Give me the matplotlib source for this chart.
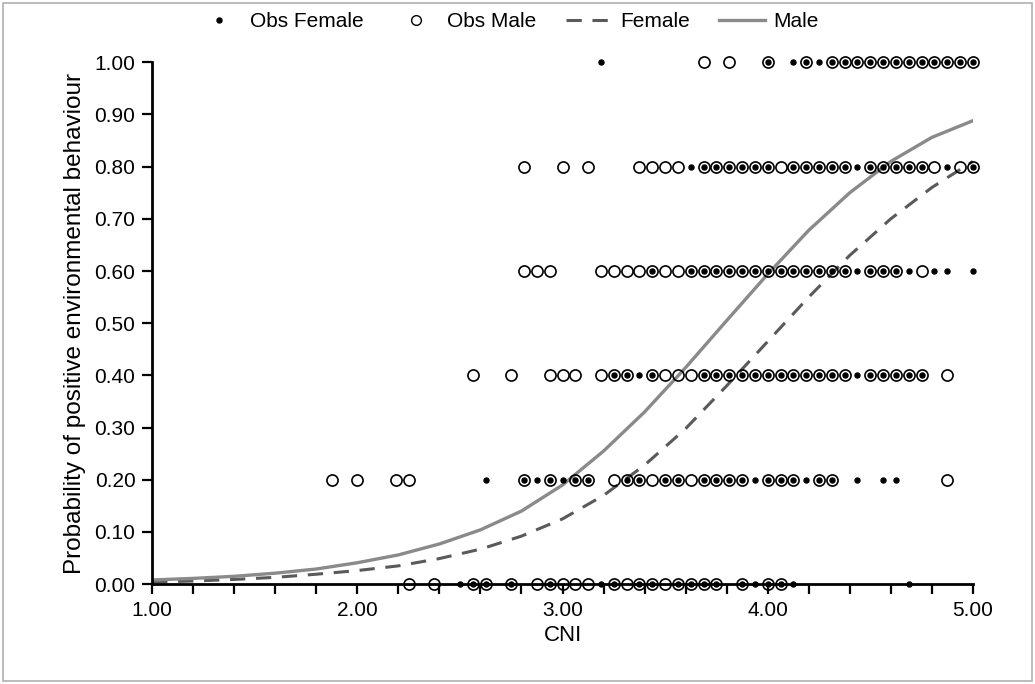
import matplotlib

matplotlib.use("Agg")
import matplotlib.pyplot as plt  # noqa: E402
from matplotlib.lines import Line2D  # noqa: E402
from matplotlib.patches import Rectangle  # noqa: E402

plt.rcParams["font.family"] = ["Liberation Sans", "DejaVu Sans"]

LEVELS = [0.0, 0.2, 0.4, 0.6, 0.8, 1.0]

FEMALE_00 = [2.5, 2.5625, 2.625, 2.75, 2.9375, 3.1875, 3.25, 3.375, 3.4375, 3.5625, 3.625, 3.6875,
             3.75, 3.875, 3.9375, 4.0, 4.0625, 4.125, 4.6875]
FEMALE_20 = [2.625, 2.8125, 2.875, 2.9375, 3.0, 3.0625, 3.125, 3.3125, 3.375, 3.5, 3.5625, 3.6875,
             3.75, 3.8125, 3.875, 3.9375, 4.0, 4.0625, 4.125, 4.1875, 4.25, 4.3125, 4.4375, 4.5625, 4.625]
FEMALE_40 = [3.25, 3.3125, 3.375, 3.4375, 3.6875, 3.75, 3.8125, 3.875, 3.9375, 4.0, 4.0625, 4.125,
             4.1875, 4.25, 4.3125, 4.375, 4.4375, 4.5, 4.5625, 4.625, 4.6875, 4.75]
FEMALE_60 = [3.4375, 3.625, 3.6875, 3.75, 3.8125, 3.875, 3.9375, 4.0, 4.0625, 4.125, 4.1875, 4.25,
             4.3125, 4.375, 4.4375, 4.5, 4.5625, 4.625, 4.6875, 4.8125, 4.875, 5.0]
FEMALE_80 = [3.625, 3.6875, 3.75, 3.8125, 3.875, 3.9375, 4.0, 4.125, 4.1875, 4.25, 4.3125, 4.375,
             4.4375, 4.5, 4.5625, 4.625, 4.6875, 4.75, 4.875, 5.0]
FEMALE_100 = [3.1875, 4.0, 4.125, 4.1875, 4.25, 4.3125, 4.375, 4.4375, 4.5, 4.5625, 4.625, 4.6875,
              4.75, 4.8125, 4.875, 4.9375, 5.0]

MALE_00 = [2.25, 2.375, 2.5625, 2.625, 2.75, 2.875, 2.9375, 3.0, 3.0625, 3.125, 3.25, 3.3125, 3.375,
           3.4375, 3.5, 3.5625, 3.625, 3.6875, 3.75, 3.875, 4.0, 4.0625]
MALE_20 = [1.875, 2.0, 2.1875, 2.25, 2.8125, 2.9375, 3.0625, 3.125, 3.25, 3.3125, 3.375, 3.4375, 3.5,
           3.5625, 3.625, 3.6875, 3.75, 3.8125, 3.875, 4.0, 4.0625, 4.125, 4.25, 4.3125, 4.875]
MALE_40 = [2.5625, 2.75, 2.9375, 3.0, 3.0625, 3.1875, 3.25, 3.3125, 3.4375, 3.5, 3.5625, 3.625,
           3.6875, 3.75, 3.8125, 3.875, 3.9375, 4.0, 4.0625, 4.125, 4.1875, 4.25, 4.3125, 4.375,
           4.5, 4.5625, 4.625, 4.6875, 4.75, 4.875]
MALE_60 = [2.8125, 2.875, 2.9375, 3.1875, 3.25, 3.3125, 3.375, 3.4375, 3.5, 3.5625, 3.625, 3.6875,
           3.75, 3.8125, 3.875, 3.9375, 4.0, 4.0625, 4.125, 4.1875, 4.25, 4.3125, 4.375, 4.5,
           4.5625, 4.625, 4.75]
MALE_80 = [2.8125, 3.0, 3.125, 3.375, 3.4375, 3.5, 3.5625, 3.6875, 3.75, 3.8125, 3.875, 3.9375, 4.0,
           4.0625, 4.125, 4.1875, 4.25, 4.3125, 4.375, 4.5, 4.5625, 4.625, 4.6875, 4.75, 4.8125,
           4.9375, 5.0]
MALE_100 = [3.6875, 3.8125, 4.0, 4.1875, 4.3125, 4.375, 4.4375, 4.5, 4.5625, 4.625, 4.6875, 4.75,
            4.8125, 4.875, 4.9375, 5.0]

FEMALE_OBS = [FEMALE_00, FEMALE_20, FEMALE_40, FEMALE_60, FEMALE_80, FEMALE_100]
MALE_OBS = [MALE_00, MALE_20, MALE_40, MALE_60, MALE_80, MALE_100]

# fitted curves
CURVE_CNI = [1.0, 1.2, 1.4, 1.6, 1.8, 2.0, 2.2, 2.4, 2.6, 2.8, 3.0, 3.2, 3.4, 3.6, 3.8, 4.0,
             4.2, 4.4, 4.6, 4.8, 5.0]
MALE_FIT = [0.008, 0.011, 0.015, 0.021, 0.029, 0.041, 0.056, 0.077, 0.104, 0.140, 0.190, 0.255,
            0.330, 0.415, 0.505, 0.594, 0.678, 0.750, 0.810, 0.856, 0.888]
FEMALE_FIT = [0.004, 0.006, 0.009, 0.013, 0.019, 0.026, 0.035, 0.049, 0.067, 0.092, 0.125, 0.170,
              0.228, 0.298, 0.380, 0.465, 0.550, 0.630, 0.700, 0.760, 0.810]

fig = plt.figure(figsize=(10.35, 6.84), dpi=100)
fig.patches.append(Rectangle((0.003, 0.004), 0.994, 0.992, transform=fig.transFigure,
                             fill=False, edgecolor="#b0b0b0", linewidth=1.2))
ax = fig.add_axes([0.147, 0.146, 0.793, 0.763])

for level, xs in zip(LEVELS, FEMALE_OBS):
    ax.plot(xs, [level] * len(xs), linestyle="none", marker="o", markersize=3.6,
            color="black", zorder=4, clip_on=False)
for level, xs in zip(LEVELS, MALE_OBS):
    ax.plot(xs, [level] * len(xs), linestyle="none", marker="o", markersize=8,
            markerfacecolor="none", markeredgecolor="black", markeredgewidth=1.2,
            zorder=3, clip_on=False)

ax.plot(CURVE_CNI, FEMALE_FIT, color="#5a5a5a", linewidth=2.2, dashes=(5, 3.5), zorder=2)
ax.plot(CURVE_CNI, MALE_FIT, color="#8a8a8a", linewidth=2.4, zorder=2)

ax.set_xlim(1.0, 5.0)
ax.set_ylim(0.0, 1.0)
ax.set_xticks([1.0 + 0.2 * i for i in range(21)])
ax.set_xticklabels([f"{1.0 + 0.2 * i:.2f}" if i % 5 == 0 else "" for i in range(21)])
ax.set_yticks([0.1 * i for i in range(11)])
ax.set_yticklabels([f"{0.1 * i:.2f}" for i in range(11)])
ax.tick_params(axis="both", direction="out", length=7, width=1.6, labelsize=15, colors="black")
ax.tick_params(axis="x", pad=5)
ax.tick_params(axis="y", pad=5)
for side in ["top", "right"]:
    ax.spines[side].set_visible(False)
for side in ["left", "bottom"]:
    ax.spines[side].set_linewidth(2.0)
    ax.spines[side].set_color("black")

ax.set_xlabel("CNI", fontsize=16, labelpad=4)
ax.set_ylabel("Probability of positive environmental behaviour", fontsize=17.5, labelpad=6)

handles = [
    Line2D([], [], linestyle="none", marker="o", markersize=3.6, color="black"),
    Line2D([], [], linestyle="none", marker="o", markersize=7, markerfacecolor="none",
           markeredgecolor="black", markeredgewidth=1.0),
    Line2D([], [], color="#5a5a5a", linewidth=2.2, dashes=(5, 3.5)),
    Line2D([], [], color="#8a8a8a", linewidth=2.4),
]
fig.legend(handles, ["Obs Female", "Obs Male", "Female", "Male"], loc="upper center",
           bbox_to_anchor=(0.49, 1.01), ncol=4, frameon=False, fontsize=15,
           handlelength=2.2, handletextpad=0.4, columnspacing=1.4)

fig.savefig("out.png", dpi=100)
